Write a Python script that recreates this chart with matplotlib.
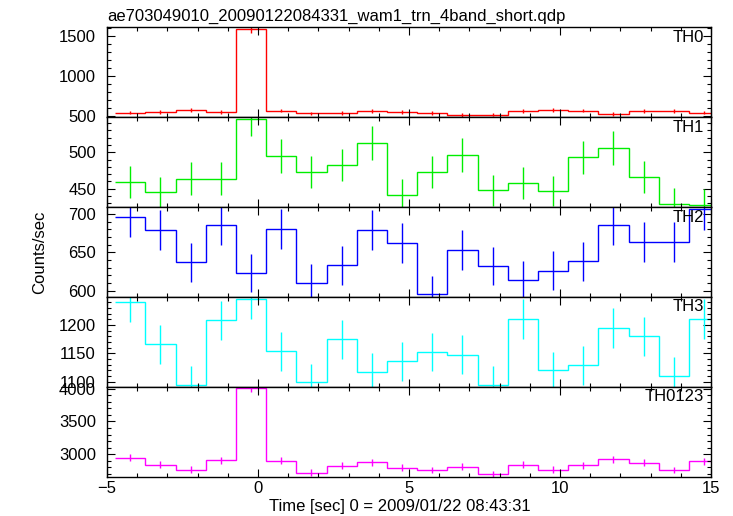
import numpy as np
import matplotlib
matplotlib.use("Agg")
import matplotlib.pyplot as plt
from matplotlib.ticker import MultipleLocator

plt.rcParams['font.family'] = ['Liberation Sans', 'DejaVu Sans']

# bin centres (sec), 1 s bins
time = [-4.23, -3.23, -2.23, -1.23, -0.23, 0.77, 1.77, 2.77, 3.77, 4.77,
        5.77, 6.77, 7.77, 8.77, 9.77, 10.77, 11.77, 12.77, 13.77, 14.77]
bin_width = 1.0

th0 = [546, 550, 575, 555, 1580, 571, 534, 538, 563, 557,
       538, 513, 521, 567, 580, 571, 530, 567, 563, 546]
th0_err = [23, 23, 24, 24, 40, 24, 23, 23, 24, 24,
           23, 23, 23, 24, 24, 24, 23, 24, 24, 23]

th1 = [459.6, 445, 464, 464, 545, 495, 472.5, 482.5, 512.4, 442,
       473.4, 496, 447.7, 457.8, 446.8, 493, 505.5, 465.6, 429.8, 428.5]
th1_err = [22, 21, 22, 22, 23, 23, 22, 22, 23, 21,
           22, 23, 21, 22, 21, 23, 23, 22, 21, 21]

th2 = [695.7, 678.8, 637, 686, 622.8, 681, 610, 633, 678.8, 661.6,
       595.7, 653.4, 632.3, 613.8, 626.2, 638.3, 685.7, 663, 664, 706]
th2_err = [26, 26, 25, 26, 25, 26, 25, 25, 26, 26,
           24, 26, 25, 25, 25, 25, 26, 26, 26, 27]

th3 = [1241, 1166, 1094.5, 1208, 1245.7, 1153.5, 1099, 1174.8, 1117, 1135.8,
       1152.4, 1147.7, 1094.5, 1210.8, 1119.9, 1128.7, 1194.9, 1180, 1110.4, 1210.3]
th3_err = [35, 34, 33, 35, 35, 34, 33, 34, 33, 34,
           34, 34, 33, 35, 33, 34, 35, 34, 33, 35]

th0123 = [2944, 2835, 2764, 2903, 4010, 2897, 2718, 2826, 2877, 2795,
          2758, 2805, 2692, 2835, 2764, 2831, 2919, 2872, 2758, 2893]
th0123_err = [54, 53, 53, 54, 63, 54, 52, 53, 54, 53,
              53, 53, 52, 53, 53, 53, 54, 54, 53, 54]

names = ['TH0', 'TH1', 'TH2', 'TH3', 'TH0123']
series = [th0, th1, th2, th3, th0123]
errors = [th0_err, th1_err, th2_err, th3_err, th0123_err]
colors = ['#ff0000', '#00ee00', '#0000ff', '#00ffff', '#ff00ff']
ylims = [(488, 1605), (425, 548), (592, 709), (1091, 1249.5), (2655, 4030)]
major = [500, 50, 50, 50, 500]
minor = [100, 10, 10, 10, 100]

W, H = 733, 516
fig, axes = plt.subplots(5, 1, sharex=True, figsize=(W / 100, H / 100), dpi=100)
fig.subplots_adjust(left=107 / W, right=711 / W, top=1 - 27.3 / H,
                    bottom=1 - 476.7 / H, hspace=0)

t = np.array(time)
edges = np.append(t - bin_width / 2, t[-1] + bin_width / 2)

for i, ax in enumerate(axes):
    ax.stairs(series[i], edges, baseline=None, color=colors[i], lw=1.0)
    ax.errorbar(t, series[i], yerr=errors[i], fmt='none', ecolor=colors[i],
                elinewidth=1.0, capsize=0)
    ax.set_xlim(-5, 15)
    ax.set_ylim(*ylims[i])
    ax.yaxis.set_major_locator(MultipleLocator(major[i]))
    ax.yaxis.set_minor_locator(MultipleLocator(minor[i]))
    ax.xaxis.set_major_locator(MultipleLocator(5))
    ax.xaxis.set_minor_locator(MultipleLocator(1))
    ax.tick_params(which='both', direction='in', top=True, right=True,
                   labelsize=12, width=0.8)
    ax.tick_params(which='major', length=6)
    ax.tick_params(which='minor', length=3)
    ax.tick_params(axis='y', pad=8)
    ax.tick_params(axis='x', pad=3)
    for s in ax.spines.values():
        s.set_linewidth(1.0)
    ax.text(0.988, 0.889, names[i], transform=ax.transAxes, ha='right',
            va='center', fontsize=12)

fig.text(107 / W, 1 - 21 / H, 'ae703049010_20090122084331_wam1_trn_4band_short.qdp',
         ha='left', va='baseline', fontsize=12)
fig.text(40 / W, 1 - 252 / H, 'Counts/sec', rotation=90, ha='center',
         va='center', fontsize=12)
fig.text(400 / W, 1 - 506 / H, 'Time [sec] 0 = 2009/01/22 08:43:31',
         ha='center', va='center', fontsize=12)

fig.savefig('out.png', dpi=100)
